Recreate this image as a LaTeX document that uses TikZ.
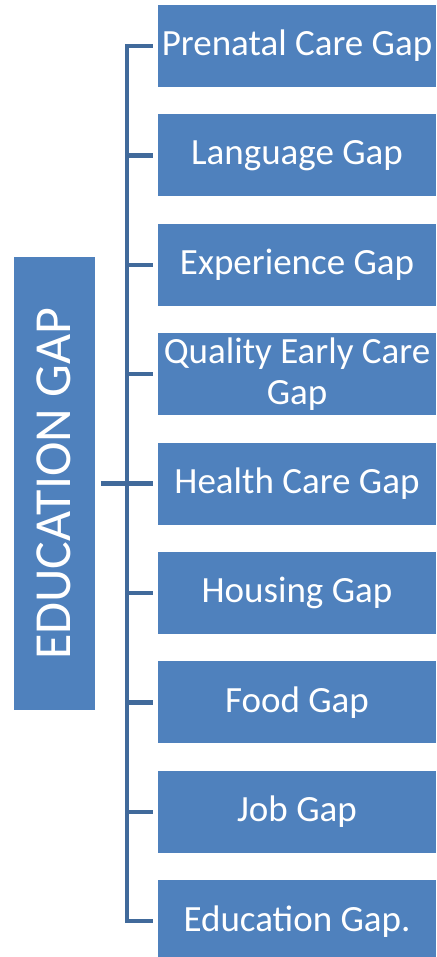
\documentclass[tikz,border=0pt]{standalone}
\usepackage{fontspec}
\setmainfont{Carlito}
\usepackage{tikz}
\usetikzlibrary{positioning}
\usetikzlibrary{calc}
\definecolor{gapblue}{RGB}{79,129,189}
\definecolor{gapline}{RGB}{65,106,155}
\tikzstyle{block} = [rectangle, fill = gapblue, text = white, inner sep = 0pt, minimum width = 278pt, minimum height = 82pt, align = center, font = \fontsize{37pt}{41pt}\selectfont]
\tikzstyle{rootblock} = [rectangle, fill = gapblue, text = white, inner sep = 0pt, minimum width = 81pt, minimum height = 453pt, font = \fontsize{52pt}{60pt}\selectfont]
\tikzstyle{conn} = [line width = 4.5pt, draw = gapline]

\begin{document}
\begin{tikzpicture}

		\useasboundingbox (0,0) rectangle (436pt,-957pt);

		% List of gaps
		\node[block] (prenatal) at (297pt,-46pt) {Prenatal Care Gap};
		\node[block, below = 27pt of prenatal] (lang) {Language Gap};
		\node[block, below = 27pt of lang] (exper) {Experience Gap};
		\node[block, below = 27pt of exper] (quality) {Quality Early Care\\Gap};
		\node[block, below = 27pt of quality] (health) {Health Care Gap};
		\node[block, below = 27pt of health] (housing) {Housing Gap};
		\node[block, below = 27pt of housing] (food) {Food Gap};
		\node[block, below = 27pt of food] (job) {Job Gap};
		\node[block, below = 27pt of job] (educ) {Education Gap.};

		% Root block
		\node[rootblock, left = 63pt of health] (edugap) {\rotatebox{90}{EDUCATION GAP}};

		% Spine with stubs
		\draw[conn] ([xshift = -5pt]prenatal.west) -| ([xshift = -31pt]lang.west)
		-- ([xshift = -31pt]job.west) |- ([xshift = -5pt]educ.west);
		\draw[conn] ([xshift = -31pt]lang.west) -- ([xshift = -5pt]lang.west);
		\draw[conn] ([xshift = -31pt]exper.west) -- ([xshift = -5pt]exper.west);
		\draw[conn] ([xshift = -31pt]quality.west) -- ([xshift = -5pt]quality.west);
		\draw[conn] ([xshift = 6pt]edugap.east) -- ([xshift = -5pt]health.west);
		\draw[conn] ([xshift = -31pt]housing.west) -- ([xshift = -5pt]housing.west);
		\draw[conn] ([xshift = -31pt]food.west) -- ([xshift = -5pt]food.west);
		\draw[conn] ([xshift = -31pt]job.west) -- ([xshift = -5pt]job.west);

	\end{tikzpicture}
\end{document}
